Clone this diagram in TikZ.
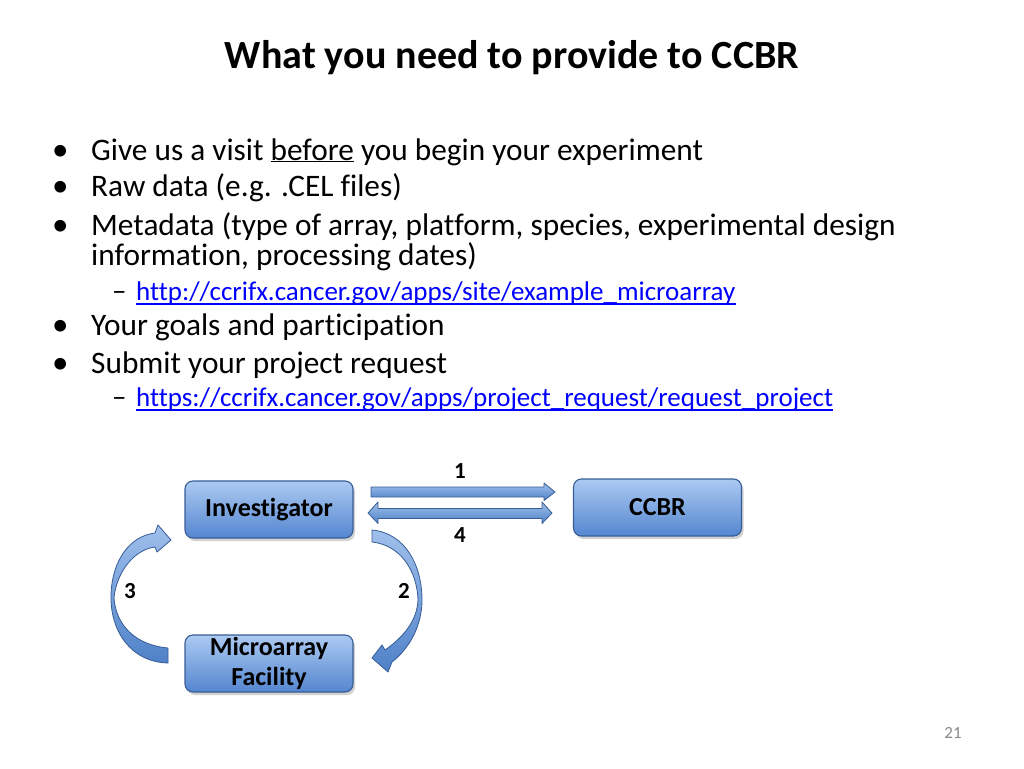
\documentclass[tikz,border=0pt]{standalone}
\usepackage{fontspec}
\setmainfont[Ligatures=NoCommon]{Carlito}
\usetikzlibrary{shadows,calc}
\definecolor{linkblue}{RGB}{0,0,255}
\definecolor{boxtop}{RGB}{172,202,242}
\definecolor{boxbot}{RGB}{84,134,208}
\definecolor{boxline}{RGB}{56,93,150}
\definecolor{arrtop}{RGB}{160,192,236}
\definecolor{arrbot}{RGB}{79,129,200}
\definecolor{pagegray}{RGB}{137,137,137}
\begin{document}
\begin{tikzpicture}[x=1pt,y=-1pt,
  box/.style={draw=boxline, line width=1.1pt, rounded corners=8pt,
    top color=boxtop, bottom color=boxbot,
    minimum width=168pt, minimum height=57pt, inner sep=0pt, align=center,
    font=\fontsize{26}{30}\selectfont\bfseries,
    drop shadow={shadow xshift=2pt, shadow yshift=-3pt, opacity=0.35}},
  body/.style={anchor=base west, inner sep=0pt, font=\fontsize{31.3}{36}\selectfont},
  bulletmark/.style={anchor=base west, inner sep=0pt, font=\fontsize{33}{36}\selectfont},
  linktext/.style={anchor=base west, inner sep=0pt, font=\fontsize{27}{32}\selectfont, text=linkblue},
  linkline/.style={draw=linkblue, line width=1.3pt},
  dashmark/.style={anchor=base west, inner sep=0pt, font=\fontsize{29}{32}\selectfont},
  num/.style={inner sep=0pt, font=\fontsize{23}{26}\selectfont\bfseries},
  blockarrow/.style={draw=boxline, line width=0.8pt, top color=arrtop, bottom color=arrbot, line join=round}
]
\useasboundingbox (0,0) rectangle (1024,768);
\fill[white] (0,0) rectangle (1024,768);

% title
\node[anchor=base, inner sep=0pt, font=\fontsize{40}{46}\selectfont\bfseries] (title) at (512,68) {What you need to provide to CCBR};

% bullets
\node[bulletmark] (b1m) at (52,160) {•};
\node[body] (b1) at (91,160) {Give us a visit \underline{before} you begin your experiment};
\node[bulletmark] (b2m) at (52,196) {•};
\node[body] (b2) at (91,196) {Raw data (e.g. .CEL files)};
\node[bulletmark] (b3m) at (52,235) {•};
\node[body] (b3) at (91,235) {Metadata (type of array, platform, species, experimental design};
\node[body] (b3b) at (91,265) {information, processing dates)};
\node[dashmark] (l1m) at (112,300) {–};
\node[linktext] (l1) at (136,300) {http://ccrifx.cancer.gov/apps/site/example\_microarray};
\draw[linkline] ($(l1.base west)+(0,4)$) -- ($(l1.base east)+(0,4)$);
\node[bulletmark] (b4m) at (52,335) {•};
\node[body] (b4) at (91,335) {Your goals and participation};
\node[bulletmark] (b5m) at (52,373) {•};
\node[body] (b5) at (91,373) {Submit your project request};
\node[dashmark] (l2m) at (112,406) {–};
\node[linktext] (l2) at (136,406) {https://ccrifx.cancer.gov/apps/project\_request/request\_project};
\draw[linkline] ($(l2.base west)+(0,4)$) -- ($(l2.base east)+(0,4)$);

% boxes
\node[box] (inv) at (269,509.5) {Investigator};
\node[box] (ccbr) at (657.5,507.5) {CCBR};
\node[box] (micro) at (269,663.5) {Microarray\\Facility};

% straight arrows
\path[blockarrow] (371,487) -- (544,487) -- (544,483) -- (555,492) -- (544,500.5) -- (544,497) -- (371,497) -- cycle;
\path[blockarrow] (368,513) -- (378,502) -- (378,508.5) -- (542,508.5) -- (542,502) -- (552,513) -- (542,523.5) -- (542,518.5) -- (378,518.5) -- (378,523.5) -- cycle;

% curved arrow 2 (Investigator -> Microarray)
\path[blockarrow] (372,530) .. controls (405,533) and (422,565) .. (422,600)
  .. controls (422,625) and (410,648) .. (392,662)
  -- (388,672) -- (372,658) -- (382,645) -- (385,650)
  .. controls (402,638) and (417,622) .. (418,600)
  .. controls (417,570) and (400,545) .. (372,542) -- cycle;

% curved arrow 3 (Microarray -> Investigator)
\path[blockarrow] (168,648) .. controls (135,645) and (116,625) .. (114,598)
  .. controls (116,575) and (132,550) .. (155,547)
  -- (157,552) -- (171,540) -- (158,525) -- (155,533)
  .. controls (130,536) and (112,560) .. (111,595)
  .. controls (110,630) and (130,662) .. (168,663) -- cycle;

% labels
\node[num] (n1) at (460,471) {1};
\node[num] (n4) at (460,535) {4};
\node[num] (n2) at (404,591) {2};
\node[num] (n3) at (130,591) {3};

% page number
\node[inner sep=0pt, font=\fontsize{17}{20}\selectfont, text=pagegray] (page) at (953,733) {21};
\end{tikzpicture}
\end{document}
